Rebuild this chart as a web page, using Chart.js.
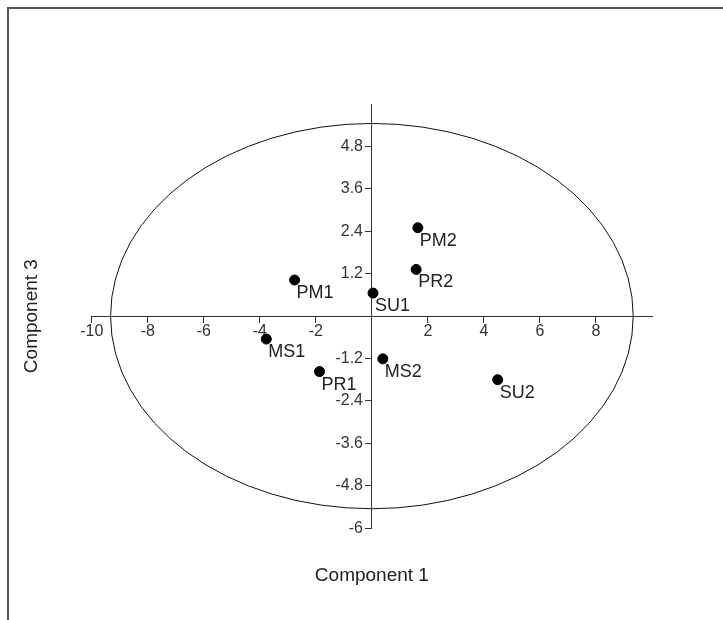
<!DOCTYPE html>
<html>
<head>
<meta charset="utf-8">
<title>Component 1 vs Component 3</title>
<script src="https://cdn.jsdelivr.net/npm/chart.js@4.4.1/dist/chart.umd.min.js"></script>
<style>
  html,body{margin:0;padding:0;background:#fff;overflow:hidden}
  #wrap{position:relative;width:723px;height:620px}
  #frame{position:absolute;left:7px;top:7px;width:800px;height:700px;border:2px solid #555;box-sizing:border-box}
  #chart{position:absolute;left:0;top:0}
</style>
</head>
<body>
<div id="wrap">
  <div id="frame"></div>
  <canvas id="chart" width="723" height="620"></canvas>
</div>
<script>
// sample scores
const samples = ['PM1','PM2','PR1','PR2','MS1','MS2','SU1','SU2']
const comp1   = [-2.76, 1.64, -1.87, 1.58, -3.77, 0.39, 0.04, 4.49]
const comp3   = [ 1.02, 2.50, -1.57, 1.32, -0.65, -1.21, 0.65, -1.80]

// axis ticks (labels shown)
const xTicks = [-10,-8,-6,-4,-2,2,4,6,8]
const yTicks = [4.8,3.6,2.4,1.2,-1.2,-2.4,-3.6,-4.8,-6]

// confidence ellipse half axes, in data units
const ellipseRx = 9.33
const ellipseRy = 5.45

const FONT = '"Liberation Sans", Arial, sans-serif'

const ellipsePlugin = {
  id:'ellipse',
  beforeDatasetsDraw(chart){
    const {ctx, scales:{x, y}} = chart
    const cx = x.getPixelForValue(0), cy = y.getPixelForValue(0)
    const rx = x.getPixelForValue(ellipseRx) - cx
    const ry = cy - y.getPixelForValue(ellipseRy)
    ctx.save()
    ctx.strokeStyle = '#111'
    ctx.lineWidth = 1
    ctx.beginPath()
    ctx.ellipse(cx, cy, rx, ry, 0, 0, Math.PI*2)
    ctx.stroke()
    ctx.restore()
  }
}

const pointLabels = {
  id:'pointLabels',
  afterDatasetsDraw(chart){
    const {ctx} = chart
    const meta = chart.getDatasetMeta(0)
    ctx.save()
    ctx.font = '18px ' + FONT
    ctx.fillStyle = '#222'
    ctx.textAlign = 'left'
    ctx.textBaseline = 'top'
    meta.data.forEach((pt, i) => {
      ctx.fillText(samples[i], pt.x + 2, pt.y + 4)
    })
    ctx.restore()
  }
}

function fixedTicks(list){
  return scale => { scale.ticks = list.map(v => ({value:v})) }
}

new Chart(document.getElementById('chart'), {
  type:'scatter',
  data:{
    datasets:[{
      data: comp1.map((v,i)=>({x:v, y:comp3[i]})),
      backgroundColor:'#000',
      borderColor:'#000',
      pointRadius:5,
      pointHoverRadius:5
    }]
  },
  options:{
    responsive:false,
    animation:false,
    layout:{padding:{left:10, right:71, top:104, bottom:33}},
    plugins:{
      legend:{display:false},
      tooltip:{enabled:false},
      title:{
        display:true, text:'Component 1', position:'bottom', fullSize:false,
        color:'#222', font:{family:FONT, size:19, weight:'normal'},
        padding:{top:36, bottom:0}
      },
      subtitle:{
        display:true, text:'Component 3', position:'left', fullSize:false,
        color:'#222', font:{family:FONT, size:19, weight:'normal'},
        padding:{top:10, bottom:49}
      }
    },
    scales:{
      x:{
        type:'linear', min:-10, max:10,
        position:{y:0},
        afterBuildTicks: fixedTicks(xTicks),
        grid:{drawOnChartArea:false, drawTicks:true, tickLength:6, color:'#333'},
        border:{display:true, color:'#333', width:1},
        ticks:{padding:0, color:'#333', font:{family:FONT, size:16}, maxRotation:0, autoSkip:false,
          callback:v => String(v)}
      },
      y:{
        type:'linear', min:-6, max:6,
        position:{x:0},
        afterBuildTicks: fixedTicks(yTicks),
        grid:{drawOnChartArea:false, drawTicks:true, tickLength:6, color:'#333'},
        border:{display:true, color:'#333', width:1},
        // centred axis puts labels flush on the line, pad with spaces
        ticks:{color:'#333', font:{family:FONT, size:16}, autoSkip:false,
          callback:v => String(v) + '  '}
      }
    }
  },
  plugins:[ellipsePlugin, pointLabels]
})
</script>
</body>
</html>
